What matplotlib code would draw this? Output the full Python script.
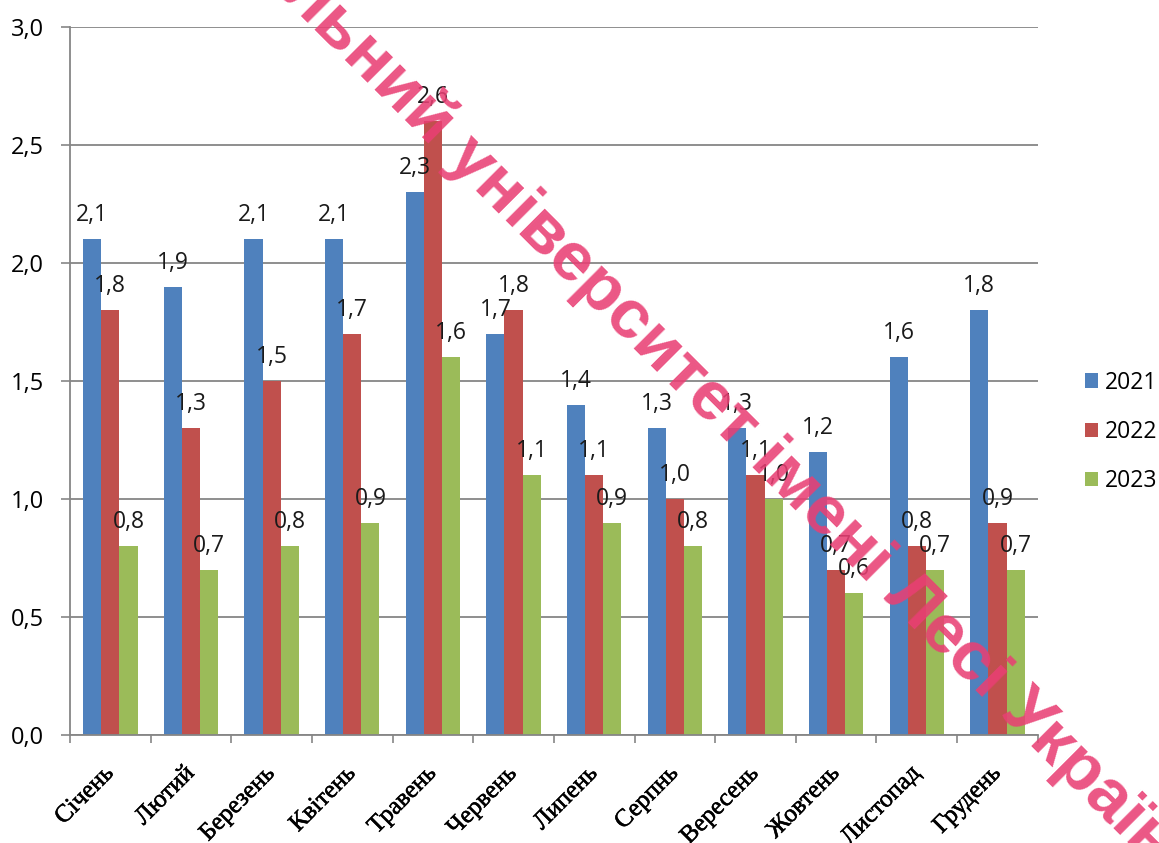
import numpy as np
import matplotlib
matplotlib.use("Agg")
import matplotlib.pyplot as plt
import matplotlib.patheffects as pe

months = ["Січень", "Лютий", "Березень", "Квітень", "Травень", "Червень",
          "Липень", "Серпнь", "Вересень", "Жовтень", "Листопад", "Грудень"]
years = ["2021", "2022", "2023"]
v2021 = [2.1, 1.9, 2.1, 2.1, 2.3, 1.7, 1.4, 1.3, 1.3, 1.2, 1.6, 1.8]
v2022 = [1.8, 1.3, 1.5, 1.7, 2.6, 1.8, 1.1, 1.0, 1.1, 0.7, 0.8, 0.9]
v2023 = [0.8, 0.7, 0.8, 0.9, 1.6, 1.1, 0.9, 0.8, 1.0, 0.6, 0.7, 0.7]
yticks = [0.0, 0.5, 1.0, 1.5, 2.0, 2.5, 3.0]
# watermark split where the visible part starts
wm_head = "Волинський національний"
wm_tail = " університет імені Лесі Українки"

colors = ["#4F81BD", "#C0504D", "#9BBB59"]
gridc = "#868686"

def fmt(v):
    return f"{v:.1f}".replace(".", ",")

def main():
    plt.rcParams['font.family'] = ['Open Sans', 'DejaVu Sans']
    fig = plt.figure(figsize=(11.59, 8.43), dpi=100)
    ax = fig.add_axes([0.0604, 0.128, 0.835, 0.84])

    x = np.arange(len(months))
    w = 0.225
    series = [v2021, v2022, v2023]
    for k, vals in enumerate(series):
        pos = x + (k - 1) * w
        bars = ax.bar(pos, vals, width=w, color=colors[k], label=years[k], zorder=2)
        for b, v in zip(bars, vals):
            ax.annotate(fmt(v), (b.get_x() + b.get_width() / 2, v),
                        xytext=(0, 13), textcoords="offset points",
                        ha="center", va="baseline", fontsize=16.5, color="#1a1a1a", zorder=4)

    ax.set_xlim(-0.5, len(months) - 0.5)
    ax.set_ylim(0, 3.0)
    ax.set_yticks(yticks)
    ax.set_yticklabels([fmt(t) for t in yticks], fontsize=17)
    ax.yaxis.grid(True, color=gridc, linewidth=1.3, zorder=0)
    ax.set_axisbelow(True)

    ax.set_xticks(x)
    labs = ax.set_xticklabels(months, rotation=45, ha="right", va="center",
                              rotation_mode="anchor", family="Liberation Serif",
                              fontsize=18)
    for t in labs:
        t.set_path_effects([pe.withStroke(linewidth=0.4, foreground="black")])
    ax.tick_params(axis="x", which="major", length=0, pad=25)
    ax.set_xticks(np.arange(-0.5, len(months)), minor=True)
    ax.tick_params(axis="x", which="minor", length=6, color=gridc, width=1.2)
    ax.tick_params(axis="y", length=6.5, color=gridc, width=1.2, pad=12)

    for s in ["top", "right"]:
        ax.spines[s].set_visible(False)
    for s in ["left", "bottom"]:
        ax.spines[s].set_color(gridc)
        ax.spines[s].set_linewidth(1.3)

    fig.legend(loc="center left", bbox_to_anchor=(0.918, 0.4875), frameon=False,
               fontsize=16.5, handlelength=0.6, handleheight=0.6,
               labelspacing=1.1, handletextpad=0.3)

    # diagonal watermark, both halves share one baseline point
    px, py = 431 / 1159, 1 - 146 / 843
    wm = dict(rotation=-45, rotation_mode="anchor", va="baseline", fontsize=50,
              fontweight="bold", family="Liberation Sans", color="#E93F74",
              alpha=0.88, zorder=10)
    fig.text(px, py, wm_head, ha="right", **wm)
    fig.text(px, py, wm_tail, ha="left", **wm)

    fig.savefig("out.png", dpi=100)

if __name__ == '__main__':
    main()
